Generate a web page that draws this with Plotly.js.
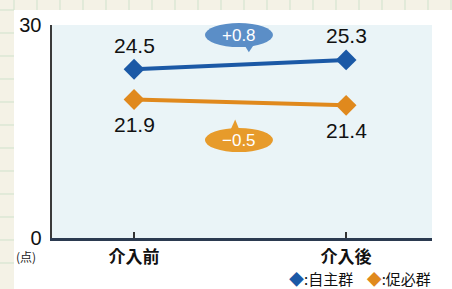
<!DOCTYPE html>
<html>
<head>
<meta charset="utf-8">
<script src="https://cdn.plot.ly/plotly-3.0.1.min.js"></script>
<style>html,body{margin:0;padding:0;background:#fff;}#chart{width:452px;height:289px;}</style>
</head>
<body>
<div id="chart"></div>
<script>
// ---- data ----
const categories = ["介入前", "介入後"];
const seriesNames = ["自主群", "促必群"];
const jishu = [24.5, 25.3];   // 自主群
const sokuhitsu = [21.9, 21.4]; // 促必群
const yTickLabels = ["0", "30"];
const unitLabel = "(点)";

const blue = "#1b59a6", orange = "#e0891d";
const blueBubble = "#5b8ec7", orangeBubble = "#e79b2b";
const xIdx = categories.map((c, i) => i);

const numFont = "Liberation Sans, Arial, sans-serif";
const jpFont = "Noto Sans CJK JP, sans-serif";

const traces = [
  {x: xIdx, y: jishu, name: seriesNames[0], type: "scatter", mode: "lines+markers",
   line: {color: blue, width: 4}, marker: {symbol: "diamond", size: 16, color: blue}, showlegend: false, cliponaxis: false},
  {x: xIdx, y: sokuhitsu, name: seriesNames[1], type: "scatter", mode: "lines+markers",
   line: {color: orange, width: 4}, marker: {symbol: "diamond", size: 16, color: orange}, showlegend: false, cliponaxis: false}
];

const annotations = [];
[[jishu, 24], [sokuhitsu, -25]].forEach(([arr, shift]) => {
  arr.forEach((v, i) => annotations.push({x: i, y: v, xref: "x", yref: "y", text: v.toFixed(1),
    xanchor: "center", yanchor: "middle",
    showarrow: false, yshift: shift, font: {family: numFont, size: 21, color: "#111"}}));
});

function diffText(arr) {
  const d = arr[1] - arr[0];
  return (d >= 0 ? "+" : "−") + Math.abs(d).toFixed(1);
}

// bubbles (paper coords)
const bw = 0.179, bh = 0.113;
const bubbles = [
  {cx: 0.492, cy: 0.953, color: blueBubble, text: diffText(jishu), tail: "M 0.505 0.91 L 0.532 0.91 L 0.518 0.872 Z"},
  {cx: 0.492, cy: 0.460, color: orangeBubble, text: diffText(sokuhitsu), tail: "M 0.468 0.50 L 0.495 0.50 L 0.482 0.556 Z"}
];
const shapes = [];
// beige page strips with faint graph lines
shapes.push({type: "rect", xref: "paper", yref: "paper", x0: -0.1369, x1: -0.1, y0: -0.24, y1: 1.118, fillcolor: "#f4f2e6", line: {width: 0}, layer: "below"});
shapes.push({type: "rect", xref: "paper", yref: "paper", x0: -0.1369, x1: 1.053, y0: 1.0704, y1: 1.118, fillcolor: "#f4f2e6", line: {width: 0}, layer: "below"});
for (let k = 0; k < 12; k++) {
  const yp = (238 - (10 + k * 23)) / 213;
  shapes.push({type: "line", xref: "paper", yref: "paper", x0: -0.1369, x1: -0.1, y0: yp, y1: yp, line: {color: "#cfe2cc", width: 1}});
}
for (let k = 0; k < 20; k++) {
  const xp = (14 + k * 23 - 52) / 380;
  shapes.push({type: "line", xref: "paper", yref: "paper", x0: xp, x1: xp, y0: 1.0704, y1: 1.118, line: {color: "#cfe2cc", width: 1}});
}
bubbles.forEach(b => {
  shapes.push({type: "circle", xref: "paper", yref: "paper", x0: b.cx - bw / 2, x1: b.cx + bw / 2,
    y0: b.cy - bh / 2, y1: b.cy + bh / 2, fillcolor: b.color, line: {width: 0}});
  shapes.push({type: "path", xref: "paper", yref: "paper", path: b.tail, fillcolor: b.color, line: {width: 0}});
  annotations.push({xref: "paper", yref: "paper", x: b.cx, y: b.cy, xanchor: "center", yanchor: "middle",
    text: b.text, showarrow: false, font: {family: numFont, size: 17, color: "#fff"}});
});

annotations.push({xref: "paper", yref: "paper", x: -0.068, y: -0.085, xanchor: "center", yanchor: "middle",
  text: unitLabel, showarrow: false, font: {family: jpFont, size: 12, color: "#222"}});
annotations.push({xref: "paper", yref: "paper", x: 1.0, y: -0.192, xanchor: "right", yanchor: "middle", borderpad: 0,
  text: `<span style="color:${blue}">◆</span>:${seriesNames[0]}    <span style="color:${orange}">◆</span>:${seriesNames[1]}`,
  showarrow: false, font: {family: jpFont, size: 15, color: "#111"}});

const layout = {
  width: 452, height: 289,
  margin: {l: 52, r: 20, t: 25, b: 51},
  paper_bgcolor: "#ffffff", plot_bgcolor: "#eaf4f7",
  xaxis: {range: [-0.387, 1.405], tickvals: xIdx, ticktext: categories, showgrid: false, zeroline: false,
    showline: true, linecolor: "#2b3a50", linewidth: 2.5, ticks: "inside", ticklen: 6, tickwidth: 1.5, tickcolor: "#333",
    tickfont: {family: jpFont, size: 17, color: "#111", weight: "bold"}, ticklabelstandoff: 2, fixedrange: true},
  yaxis: {range: [10, 28.3], tickvals: [10, 28.3], ticktext: yTickLabels, showgrid: false, zeroline: false,
    showline: true, linecolor: "#3a3a3a", linewidth: 2.5, ticks: "inside", ticklen: 7, tickwidth: 2, tickcolor: "#3a3a3a",
    tickfont: {family: numFont, size: 20, color: "#111"}, ticklabelstandoff: 4, fixedrange: true},
  shapes: shapes,
  annotations: annotations,
  showlegend: false
};

Plotly.newPlot("chart", traces, layout, {displayModeBar: false, staticPlot: true});
</script>
</body>
</html>
